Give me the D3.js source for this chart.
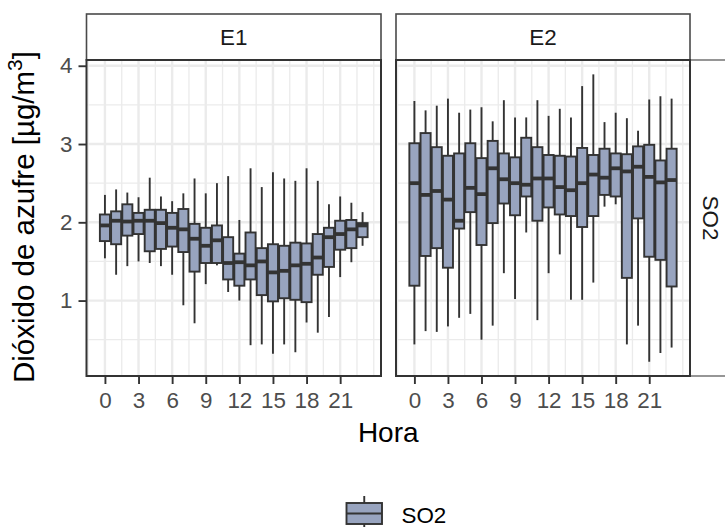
<!DOCTYPE html>
<html>
<head>
<meta charset="utf-8">
<script src="https://cdn.jsdelivr.net/npm/d3@7"></script>
<style>
  html, body { margin: 0; padding: 0; background: #fff; }
  svg { display: block; font-family: "Liberation Sans", Arial, sans-serif; }
</style>
</head>
<body>
<svg id="chart" width="725" height="527"></svg>
<script>
// ---------------- data ----------------
const hours = d3.range(0, 24);
const xTickLabels = [0, 3, 6, 9, 12, 15, 18, 21];
const yTickLabels = [1, 2, 3, 4];
const stations = ["E1", "E2"];
const pollutant = "SO2";

// E1 boxplot stats per hour
const e1Min    = [1.54,1.33,1.44,1.50,1.48,1.44,1.33,0.94,0.71,1.21,1.45,1.11,1.00,0.43,0.44,0.32,0.44,0.34,0.72,0.59,0.79,1.30,1.49,1.70];
const e1Lower  = [1.76,1.72,1.83,1.85,1.63,1.66,1.69,1.62,1.37,1.48,1.48,1.27,1.19,1.27,1.07,0.99,1.03,1.01,0.98,1.33,1.43,1.65,1.67,1.81];
const e1Median = [1.96,2.02,2.01,2.02,2.02,1.99,1.93,1.91,1.79,1.70,1.77,1.48,1.49,1.45,1.50,1.36,1.38,1.45,1.47,1.55,1.81,1.85,1.91,1.96];
const e1Upper  = [2.10,2.14,2.23,2.12,2.16,2.16,2.12,2.17,1.98,1.93,1.96,1.81,1.60,1.87,1.67,1.72,1.70,1.74,1.73,1.85,1.93,2.02,2.03,1.99];
const e1Max    = [2.35,2.42,2.38,2.32,2.57,2.33,2.27,2.37,2.56,2.37,2.50,2.59,2.03,2.69,2.45,2.64,2.56,2.53,2.69,2.53,2.23,2.33,2.25,2.13];

// E2 boxplot stats per hour
const e2Min    = [0.44,0.61,0.60,0.67,0.78,0.83,0.50,0.68,1.35,1.02,1.87,0.75,1.35,1.59,1.01,1.01,1.23,2.20,2.23,0.44,0.68,0.22,0.33,0.40];
const e2Lower  = [1.19,1.57,1.67,1.42,1.92,2.13,1.71,1.99,2.24,2.09,2.33,2.02,2.19,2.10,2.08,1.94,2.08,2.35,2.33,1.29,2.05,1.56,1.52,1.18];
const e2Median = [2.50,2.35,2.40,2.29,2.02,2.44,2.36,2.69,2.55,2.50,2.48,2.56,2.56,2.45,2.41,2.50,2.61,2.57,2.69,2.65,2.71,2.58,2.51,2.54];
const e2Upper  = [3.01,3.14,2.96,2.85,2.88,3.01,2.82,3.04,2.88,2.83,3.08,2.96,2.86,2.85,2.84,2.95,2.86,2.94,2.88,2.87,2.97,2.99,2.79,2.94];
const e2Max    = [3.55,3.43,3.49,3.58,3.40,3.44,3.47,3.29,3.56,3.34,3.34,3.56,3.36,3.45,3.34,3.74,3.89,3.28,3.40,3.33,3.17,3.57,3.61,3.58];

function buildRows(mn, lo, md, up, mx) {
  return hours.map((h, i) => ({ h, min: mn[i], lower: lo[i], median: md[i], upper: up[i], max: mx[i] }));
}
const panelData = {
  E1: buildRows(e1Min, e1Lower, e1Median, e1Upper, e1Max),
  E2: buildRows(e2Min, e2Lower, e2Median, e2Upper, e2Max)
};

// ---------------- styling ----------------
const FILL = "#98A4BF";
const DARK = "#333333";
const GRID = "#EBEBEB";
const LW = 1.9;

const svg = d3.select("#chart");
const panelTop = 60, panelBottom = 376;
const panelsX = [[86.5, 381], [396, 690]];

// y scale with ggplot-like 5% expansion
const allMin = d3.min([...e1Min, ...e2Min]);
const allMax = d3.max([...e1Max, ...e2Max]);
const yPad = (allMax - allMin) * 0.05;
const y = d3.scaleLinear().domain([allMin - yPad, allMax + yPad]).range([panelBottom, panelTop]);

// x domain: boxes of width 0.9 plus 5% expansion
const xLo = -0.45, xHi = 23.45, xPad = (xHi - xLo) * 0.05;
const xDomain = [xLo - xPad, xHi + xPad];

const yMajor = yTickLabels;
const yMinor = [0.5, 1.5, 2.5, 3.5];
const xMajor = xTickLabels;
const xMinor = [-1.5, 1.5, 4.5, 7.5, 10.5, 13.5, 16.5, 19.5, 22.5, 24];

stations.forEach((st, pi) => {
  const [x0, x1] = panelsX[pi];
  const x = d3.scaleLinear().domain(xDomain).range([x0, x1]);
  const g = svg.append("g");

  // panel background
  g.append("rect").attr("x", x0).attr("y", panelTop).attr("width", x1 - x0).attr("height", panelBottom - panelTop).attr("fill", "#fff");

  // grid
  const grid = g.append("g");
  grid.selectAll(".ymin").data(yMinor.filter(v => y(v) < panelBottom && y(v) > panelTop)).join("line")
    .attr("x1", x0).attr("x2", x1).attr("y1", d => y(d)).attr("y2", d => y(d))
    .attr("stroke", GRID).attr("stroke-width", 1.3);
  grid.selectAll(".xmin").data(xMinor.filter(v => v >= xDomain[0] && v <= xDomain[1])).join("line")
    .attr("y1", panelTop).attr("y2", panelBottom).attr("x1", d => x(d)).attr("x2", d => x(d))
    .attr("stroke", GRID).attr("stroke-width", 1.3);
  grid.selectAll(".ymaj").data(yMajor).join("line")
    .attr("x1", x0).attr("x2", x1).attr("y1", d => y(d)).attr("y2", d => y(d))
    .attr("stroke", GRID).attr("stroke-width", 2.4);
  grid.selectAll(".xmaj").data(xMajor).join("line")
    .attr("y1", panelTop).attr("y2", panelBottom).attr("x1", d => x(d)).attr("x2", d => x(d))
    .attr("stroke", GRID).attr("stroke-width", 2.4);

  // boxes
  const rows = panelData[st];
  const bw = x(0.45) - x(-0.45);
  const bx = g.append("g").selectAll("g").data(rows).join("g");
  bx.append("line")
    .attr("x1", d => x(d.h)).attr("x2", d => x(d.h))
    .attr("y1", d => y(d.max)).attr("y2", d => y(d.min))
    .attr("stroke", DARK).attr("stroke-width", LW);
  bx.append("rect")
    .attr("x", d => x(d.h) - bw / 2).attr("width", bw)
    .attr("y", d => y(d.upper)).attr("height", d => y(d.lower) - y(d.upper))
    .attr("fill", FILL).attr("stroke", DARK).attr("stroke-width", LW);
  bx.append("line")
    .attr("x1", d => x(d.h) - bw / 2).attr("x2", d => x(d.h) + bw / 2)
    .attr("y1", d => y(d.median)).attr("y2", d => y(d.median))
    .attr("stroke", DARK).attr("stroke-width", LW * 2);

  // x axis
  const xAxis = d3.axisBottom(x).tickValues(xTickLabels).tickSize(8).tickPadding(8).tickFormat(d3.format("d"));
  const ax = g.append("g").attr("transform", `translate(0,${panelBottom})`).call(xAxis);
  ax.select(".domain").remove();
  ax.selectAll(".tick line").attr("stroke", DARK).attr("stroke-width", LW);
  ax.selectAll(".tick text").attr("fill", "#4D4D4D").attr("font-size", "22.4px")
    .attr("font-family", "'Liberation Sans', Arial, sans-serif");

  // y axis on first panel
  if (pi === 0) {
    const yAxis = d3.axisLeft(y).tickValues(yTickLabels).tickSize(8).tickPadding(6).tickFormat(d3.format("d"));
    const ay = g.append("g").attr("transform", `translate(${x0},0)`).call(yAxis);
    ay.select(".domain").remove();
    ay.selectAll(".tick line").attr("stroke", DARK).attr("stroke-width", LW);
    ay.selectAll(".tick text").attr("fill", "#4D4D4D").attr("font-size", "22.4px")
      .attr("font-family", "'Liberation Sans', Arial, sans-serif");
  }

  // strip top
  g.append("rect").attr("x", x0).attr("y", 14).attr("width", x1 - x0).attr("height", panelTop - 14)
    .attr("fill", "#fff").attr("stroke", "#4a4a4a").attr("stroke-width", 1.6);
  g.append("text").attr("x", (x0 + x1) / 2).attr("y", 44.5).attr("text-anchor", "middle")
    .attr("font-size", "22.4px").attr("fill", "#1A1A1A").text(st);

  // right strip on last panel
  if (pi === stations.length - 1) {
    g.append("rect").attr("x", x1).attr("y", panelTop).attr("width", 60).attr("height", panelBottom - panelTop)
      .attr("fill", "#fff").attr("stroke", "#6a6a6a").attr("stroke-width", 1.4);
    g.append("text").attr("transform", `translate(${x1 + 20},${(panelTop + panelBottom) / 2}) rotate(90)`)
      .attr("text-anchor", "middle").attr("dominant-baseline", "central")
      .attr("font-size", "22.4px").attr("fill", "#1A1A1A").text(pollutant);
  }

  // panel border
  g.append("rect").attr("x", x0).attr("y", panelTop).attr("width", x1 - x0).attr("height", panelBottom - panelTop)
    .attr("fill", "none").attr("stroke", DARK).attr("stroke-width", 2);
});

// axis titles
svg.append("text").attr("x", (panelsX[0][0] + panelsX[1][1]) / 2).attr("y", 441.5)
  .attr("text-anchor", "middle").attr("font-size", "28px").attr("fill", "#000").text("Hora");

const yt = svg.append("text").attr("transform", `translate(34,${(panelTop + panelBottom) / 2 - 1}) rotate(-90)`)
  .attr("text-anchor", "middle").attr("font-size", "29.5px").attr("fill", "#000");
yt.append("tspan").text("Dióxido de azufre [µg/m");
yt.append("tspan").attr("font-size", "21px").attr("dy", "-12").text("3");
yt.append("tspan").attr("dy", "12").text("]");

// legend
const lg = svg.append("g");
const kx0 = 346.5, kx1 = 382;
const kScale = d3.scaleLinear().domain([0, 1]).range([kx0, kx1]);
lg.append("line").attr("x1", kScale(0.5)).attr("x2", kScale(0.5)).attr("y1", 496).attr("y2", 535)
  .attr("stroke", DARK).attr("stroke-width", LW);
lg.append("rect").attr("x", kx0).attr("y", 503).attr("width", kx1 - kx0).attr("height", 21)
  .attr("fill", FILL).attr("stroke", DARK).attr("stroke-width", LW);
lg.append("line").attr("x1", kx0).attr("x2", kx1).attr("y1", 513.5).attr("y2", 513.5)
  .attr("stroke", DARK).attr("stroke-width", LW);
lg.append("text").attr("x", 401.5).attr("y", 523.3).attr("font-size", "22.4px").attr("fill", "#000").text(pollutant);
</script>
</body>
</html>
